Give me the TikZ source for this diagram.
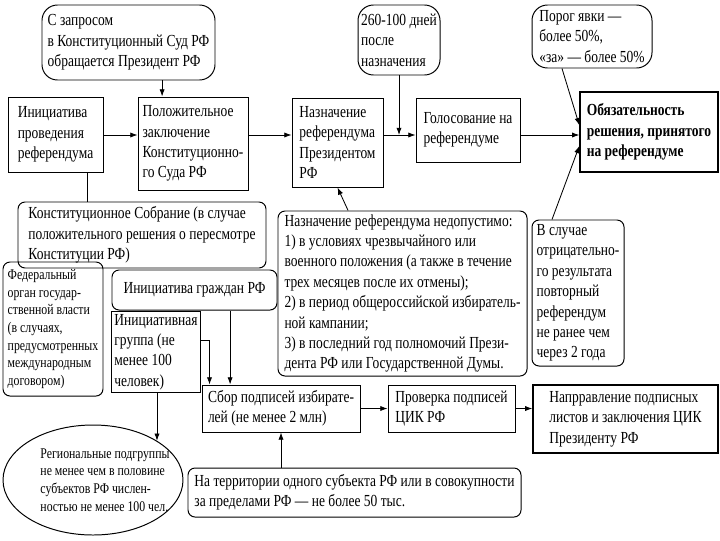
\documentclass[tikz,border=0pt]{standalone}
\usepackage{fontspec}
\setmainfont{Liberation Serif}[FakeStretch=0.8]
\usetikzlibrary{positioning,arrows.meta,shapes.geometric}

\begin{document}
\begin{tikzpicture}[
    x=0.025cm, y=-0.025cm,
    font=\fontsize{12pt}{14.5pt}\selectfont,
    sz/.style 2 args={minimum width=#1*0.025cm, minimum height=#2*0.025cm},
    box/.style={draw=black, line width=0.7pt, align=left, inner sep=2pt},
    rbox/.style={box, rounded corners=5pt},
    bubble/.style={box, rounded corners=11pt},
    small/.style={font=\fontsize{10.5pt}{12.6pt}\selectfont},
    arrow/.style={-{Latex[length=1.8mm,width=1.3mm]}, line width=0.6pt},
    link/.style={line width=0.6pt}
]
\useasboundingbox (0,0) rectangle (720,540);
\coordinate (row) at (0,135);
% top row
\node[bubble, sz={173}{75}] (req) at (128.5,42.5) {С запросом\\в Конституционный Суд РФ\\обращается Президент РФ};
\node[bubble, sz={82}{70}] (days) at (399,40) {260-100 дней\\после\\назначения};
\node[bubble, sz={120}{63}] (thresh) at (592,36.5) {Порог явки —\\более 50\%,\\«за» — более 50\%};
% main row
\node[box, sz={95}{75}] (init) at (55.5,134.5) {Инициатива\\проведения\\референдума};
\node[box, sz={110}{93}] (conc) at (193,143.5) {Положительное\\заключение\\Конституционно-\\го Суда РФ};
\node[box, sz={91}{89}] (appoint) at (337.5,142.5) {Назначение\\референдума\\Президентом\\РФ};
\node[box, sz={104}{64}] (vote) at (468,130) {Голосование на\\референдуме};
\node[box, line width=1pt, sz={138}{80}, font=\fontsize{12pt}{14.5pt}\selectfont\bfseries] (binding) at (649,132) {Обязательность\\решения, принятого\\на референдуме};
% initiators
\node[rbox, sz={248}{66}] (assembly) at (142,235) {Конституционное Собрание (в случае\\положительного решения о пересмотре\\Конституции РФ)};
\node[rbox, small, sz={100}{134}] (federal) at (53,329) {Федеральный\\орган государ-\\ственной власти\\(в случаях,\\предусмотренных\\международным\\договором)};
\node[rbox, sz={165}{40}] (citizens) at (194.5,290) {Инициатива граждан РФ};
\node[box, sz={88}{76}] (group) at (156,352) {Инициативная\\группа (не\\менее 100\\человек)};
% notes
\node[rbox, sz={249}{165}] (banned) at (402.5,293.5) {Назначение референдума недопустимо:\\1) в условиях чрезвычайного или\\военного положения (а также в течение\\трех месяцев после их отмены);\\2) в период общероссийской избиратель-\\ной кампании;\\3) в последний год полномочий Прези-\\дента РФ или Государственной Думы.};
\node[rbox, sz={92}{146}] (repeat) at (578,293) {В случае\\отрицательно-\\го результата\\повторный\\референдум\\не ранее чем\\через 2 года};
% signatures row
\node[box, sz={158}{47}] (collect) at (281,408.5) {Сбор подписей избирате-\\лей (не менее 2 млн)};
\node[box, sz={127}{47}] (check) at (451.5,408.5) {Проверка подписей\\ЦИК РФ};
\node[box, line width=1pt, sz={185}{68}] (send) at (625.5,419) {Напрравление подписных\\листов и заключения ЦИК\\Президенту РФ};
\node[ellipse, draw=black, line width=0.7pt, inner sep=0pt, sz={180}{110}] (reg) at (93,480) {};
\node[small, align=left, inner sep=0pt] (regtext) at ([xshift=0.3cm]reg.center) {Региональные подгруппы\\не менее чем в половине\\субъектов РФ числен-\\ностью не менее 100 чел.};
\node[rbox, sz={333}{49}] (territory) at (354.5,492.5) {На территории одного субъекта РФ или в совокупности\\за пределами РФ — не более 50 тыс.};
% connectors
\draw[arrow] ([xshift=0.84cm]req.south) -- ([xshift=0.84cm]req.south |- conc.north);
\draw[arrow] (init.east |- row) -- (conc.west |- row);
\draw[arrow] (conc.east |- row) -- (appoint.west |- row);
\draw[arrow] (appoint.east |- row) -- (vote.west |- row);
\draw[arrow] (days.south) -- (days.south |- row);
\draw[arrow] (vote.east |- row) -- (binding.west |- row);
\draw[arrow] ([xshift=-0.75cm]thresh.south) -- ([yshift=0.17cm]binding.west);
\draw[arrow] ([xshift=-0.65cm]repeat.north) -- ([yshift=-0.35cm]binding.west);
\draw[arrow] ([xshift=-1.36cm]banned.north) -- (appoint.south);
\draw[link] ([xshift=0.79cm]init.south) -- ([xshift=0.79cm]init.south |- assembly.north);
\draw[arrow] ([yshift=0.3cm]group.east) -| ([xshift=0.2cm]collect.north west);
\draw[arrow] ([xshift=0.89cm]citizens.south) -- ([xshift=0.89cm]citizens.south |- collect.north);
\draw[arrow] (group.south -| reg.north east) -- (reg.north east);
\draw[arrow] (collect.south |- territory.north) -- (collect.south);
\draw[arrow] (collect.east) -- (check.west);
\draw[arrow] (check.east) -- (check.east -| send.west);
\end{tikzpicture}
\end{document}
